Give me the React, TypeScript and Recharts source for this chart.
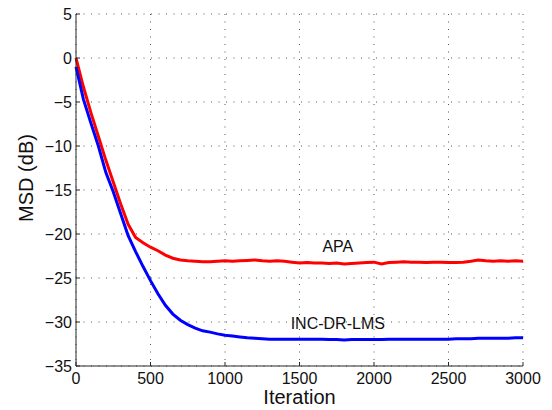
import React from 'react'
import {
  LineChart,
  Line,
  XAxis,
  YAxis,
  CartesianGrid,
  Label,
  ReferenceDot,
} from 'recharts'

// iteration index, every 50 samples
const iterations = [
  0, 50, 100, 150, 200, 250, 300, 350, 400, 450, 500, 550, 600, 650, 700, 750,
  800, 850, 900, 950, 1000, 1050, 1100, 1150, 1200, 1250, 1300, 1350, 1400, 1450,
  1500, 1550, 1600, 1650, 1700, 1750, 1800, 1850, 1900, 1950, 2000, 2050, 2100,
  2150, 2200, 2250, 2300, 2350, 2400, 2450, 2500, 2550, 2600, 2650, 2700, 2750,
  2800, 2850, 2900, 2950, 3000,
]

const apa = [
  0, -3.3, -6.2, -8.9, -11.6, -14.1, -16.6, -18.9, -20.4, -21.0, -21.5, -21.9,
  -22.4, -22.75, -22.95, -23.05, -23.1, -23.15, -23.15, -23.1, -23.05, -23.1, -23.05,
  -23.0, -22.95, -23.05, -23.1, -23.05, -23.1, -23.2, -23.3, -23.25, -23.3, -23.3,
  -23.35, -23.3, -23.4, -23.35, -23.3, -23.25, -23.2, -23.4, -23.25, -23.2,
  -23.15, -23.2, -23.2, -23.25, -23.2, -23.2, -23.25, -23.25, -23.2, -23.1,
  -22.95, -23.05, -23.1, -23.05, -23.1, -23.05, -23.1,
]

const incDrLms = [
  -1.0, -4.7, -7.4, -10.0, -13.0, -15.2, -17.7, -20.2, -22.0, -23.7, -25.3, -26.8,
  -28.1, -29.1, -29.8, -30.3, -30.7, -31.0, -31.15, -31.35, -31.5, -31.6, -31.7,
  -31.8, -31.85, -31.9, -31.95, -31.95, -31.95, -31.95, -31.95, -31.95, -31.95,
  -31.95, -32.0, -32.0, -32.05, -32.0, -32.0, -32.0, -32.0, -32.0, -31.95, -31.95,
  -31.95, -31.95, -31.95, -31.95, -31.95, -31.95, -31.95, -31.9, -31.9, -31.9,
  -31.85, -31.85, -31.85, -31.85, -31.85, -31.8, -31.8,
]

const xTicks = [0, 500, 1000, 1500, 2000, 2500, 3000]
const yTicks = [-35, -30, -25, -20, -15, -10, -5, 0, 5]

const data = iterations.map((it, i) => ({
  iter: it,
  apa: apa[i],
  inc: incDrLms[i],
}))

const axisColor = '#262626'
const font = '"Liberation Sans", Arial, sans-serif'
const minus = (v: number) => String(v).replace('-', '\u2212')

export default function App() {
  return (
    <div style={{ position: 'absolute', left: 0, top: 0, background: '#fff', fontFamily: font }}>
      <LineChart
        width={552}
        height={410}
        data={data}
        margin={{ top: 14, right: 29, bottom: 0, left: 16 }}
      >
        <CartesianGrid stroke="#555" strokeDasharray="1 6.5" />
        <XAxis
          dataKey="iter"
          type="number"
          domain={[0, 3000]}
          ticks={xTicks}
          height={44}
          tickSize={-4}
          tickMargin={11}
          axisLine={{ stroke: axisColor }}
          tickLine={{ stroke: axisColor }}
          tick={{ fill: '#111', fontSize: 16, fontFamily: font }}
        >
          <Label
            value="Iteration"
            position="insideBottom"
            offset={6}
            style={{ fill: '#111', fontSize: 20, fontFamily: font }}
          />
        </XAxis>
        <YAxis
          type="number"
          domain={[-35, 5]}
          ticks={yTicks}
          width={60}
          tickSize={-4}
          tickMargin={8}
          tickFormatter={minus}
          axisLine={{ stroke: axisColor }}
          tickLine={{ stroke: axisColor }}
          tick={{ fill: '#111', fontSize: 16, fontFamily: font }}
        >
          <Label
            value="MSD (dB)"
            angle={-90}
            position="center"
            dx={-20}
            dy={-12}
            style={{ fill: '#111', fontSize: 20, fontFamily: font, textAnchor: 'middle' }}
          />
        </YAxis>
        <Line
          dataKey="apa"
          stroke="#ff0000"
          strokeWidth={3}
          dot={false}
          type="linear"
          isAnimationActive={false}
        />
        <Line
          dataKey="inc"
          stroke="#0000ff"
          strokeWidth={3}
          dot={false}
          type="linear"
          isAnimationActive={false}
        />
        <ReferenceDot
          x={1757}
          y={-21.35}
          r={0}
          fill="none"
          stroke="none"
          label={{ value: 'APA', position: 'center', fill: '#111', fontSize: 16, fontFamily: font }}
        />
        <ReferenceDot
          x={1757}
          y={-30.2}
          r={0}
          fill="none"
          stroke="none"
          label={{ value: 'INC-DR-LMS', position: 'center', fill: '#111', fontSize: 16, fontFamily: font }}
        />
      </LineChart>
    </div>
  )
}
